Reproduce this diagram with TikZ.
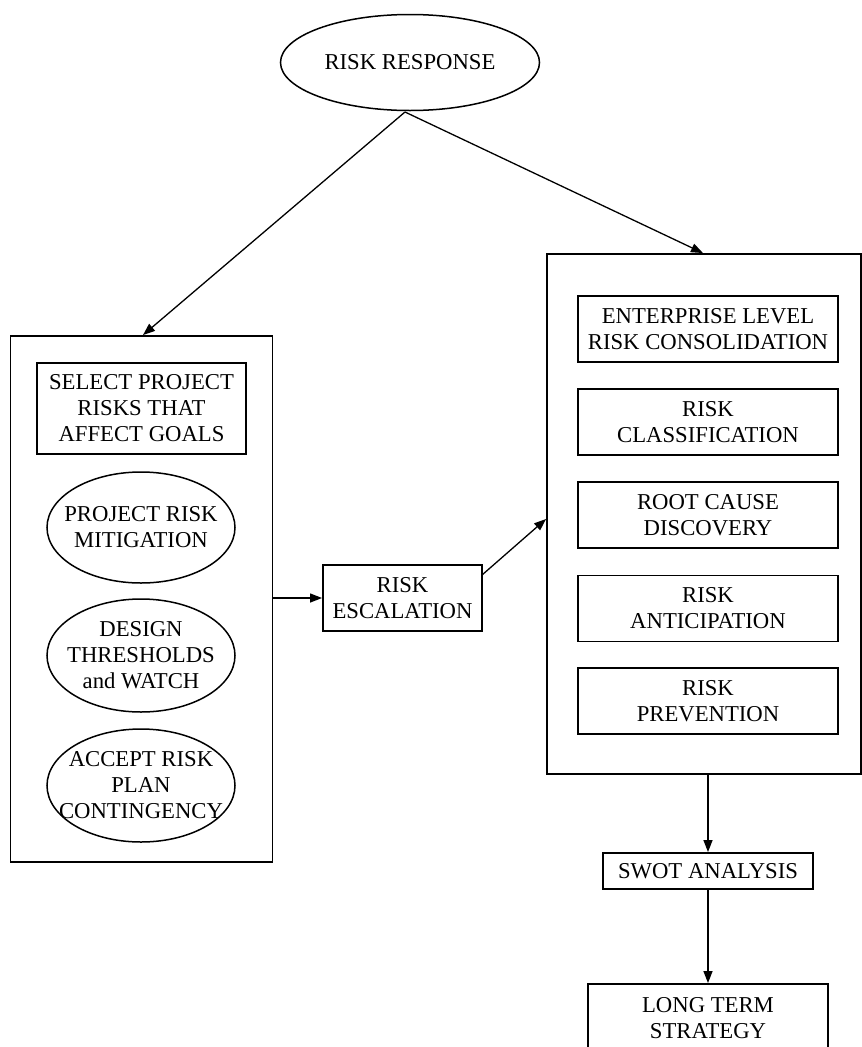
\documentclass[tikz,border=0pt]{standalone}
\usepackage{fontspec}
\setmainfont{Liberation Serif}
\usetikzlibrary{arrows.meta,shapes.geometric,calc}
\begin{document}
\begin{tikzpicture}[x=1pt,y=-1pt,
  font=\fontsize{22.7}{26}\selectfont,
  boxline/.style={draw,line width=1.9pt},
  frame/.style={boxline,rectangle,inner sep=0pt},
  inbox/.style={boxline,rectangle,inner sep=0pt,align=center},
  oval/.style={draw,line width=1.5pt,ellipse,inner sep=0pt},
  arr/.style={line width=1.3pt,-{Triangle[length=12pt,width=9pt]}}]
\useasboundingbox (0,0) rectangle (862,1047);
% top ellipse
\node[oval,minimum width=259pt,minimum height=96pt,label={center:RISK RESPONSE}] (resp) at (410,62.5) {};
% left frame and its contents
\node[frame,minimum width=262pt,minimum height=526pt] (leftbox) at (141.5,599) {};
\node[inbox,minimum width=209pt,minimum height=91pt] (select) at (141.5,408.5) {SELECT PROJECT\\RISKS THAT\\AFFECT GOALS};
\node[oval,minimum width=188pt,minimum height=111pt,label={[align=center]center:PROJECT RISK\\MITIGATION}] (mitig) at (141,527.5) {};
\node[oval,minimum width=188pt,minimum height=113pt,label={[align=center]center:DESIGN\\THRESHOLDS\\and WATCH}] (design) at (141,655.5) {};
\node[oval,minimum width=188pt,minimum height=113pt,label={[align=center]center:ACCEPT RISK\\PLAN\\CONTINGENCY}] (accept) at (141,785.5) {};
% escalation
\node[inbox,minimum width=159pt,minimum height=66pt] (esc) at (402.5,598) {RISK\\ESCALATION};
% right frame and its contents
\node[frame,minimum width=314pt,minimum height=520pt] (rightbox) at (704,514) {};
\node[inbox,minimum width=260pt,minimum height=66pt] (ent) at (708,329) {ENTERPRISE LEVEL\\RISK CONSOLIDATION};
\node[inbox,minimum width=260pt,minimum height=66pt] (cls) at (708,422) {RISK\\CLASSIFICATION};
\node[inbox,minimum width=260pt,minimum height=66pt] (root) at (708,515) {ROOT CAUSE\\DISCOVERY};
\node[inbox,minimum width=260pt,minimum height=66pt] (ant) at (708,608.5) {RISK\\ANTICIPATION};
\node[inbox,minimum width=260pt,minimum height=66pt] (prev) at (708,701) {RISK\\PREVENTION};
% lower chain
\node[inbox,minimum width=210pt,minimum height=36pt] (swot) at (708,871) {SWOT ANALYSIS};
\node[boxline,rectangle,inner sep=0pt,minimum width=240pt,minimum height=76pt,label={[align=center,yshift=4pt]center:LONG TERM\\STRATEGY}] (longterm) at (708,1022) {};
% connectors
\coordinate (rstart) at (405,112);
\coordinate (escout) at (482,575);
\draw[arr] (rstart) -- ([xshift=1.5pt]leftbox.north -| select.center);
\draw[arr] (rstart) -- ([xshift=-5pt]rightbox.north -| ent.center);
\draw[arr] (leftbox.east |- esc.west) -- (esc.west);
\draw[arr] (escout) -- ([yshift=-4pt]rightbox.west |- root.center);
\draw[arr] (swot.north |- rightbox.south) -- (swot.north);
\draw[arr] (swot.south) -- (longterm.north);
\end{tikzpicture}
\end{document}
